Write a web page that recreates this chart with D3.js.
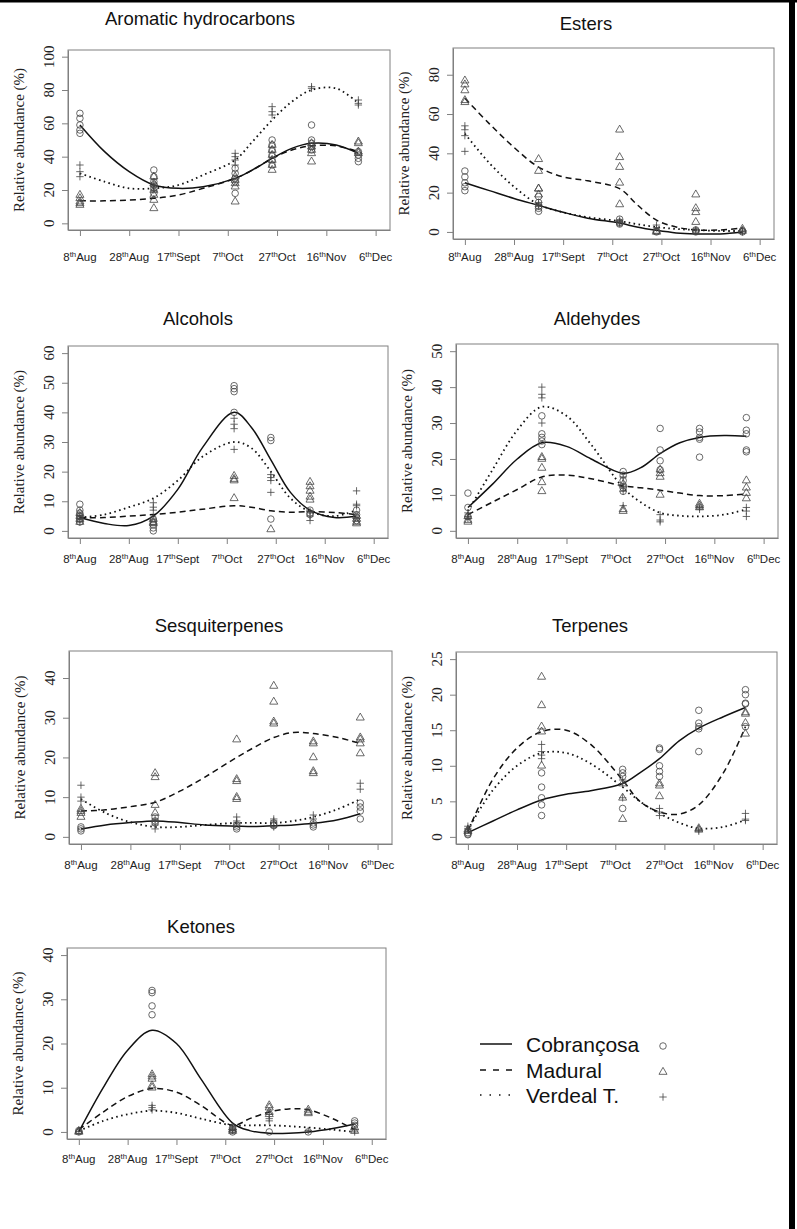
<!DOCTYPE html>
<html>
<head>
<meta charset="utf-8">
<script src="https://cdn.jsdelivr.net/npm/d3@7"></script>
<style>
  body { margin: 0; background: #fff; }
  svg { display: block; }
</style>
</head>
<body>
<svg id="chart"></svg>
<script>
// sampling dates, as days after 8th Aug
const sampleDays = [0, 30, 63, 78, 94, 113];
const fitDays = [0, 10, 20, 30, 40, 50, 63, 70, 78, 86, 94, 104, 113];
const tickDays = [0, 20, 40, 60, 80, 100, 120];
const tickNums = ['8', '28', '17', '7', '27', '16', '6'];
const tickMonths = ['Aug', 'Aug', 'Sept', 'Oct', 'Oct', 'Nov', 'Dec'];
const cultivars = ['Cobrançosa', 'Madural', 'Verdeal T.'];
const titles = ['Aromatic hydrocarbons', 'Esters', 'Alcohols', 'Aldehydes', 'Sesquiterpenes', 'Terpenes', 'Ketones'];
const yLims = [100, 90, 60, 50, 45, 25, 40];
const yTickMax = [100, 80, 60, 50, 40, 25, 40];
const yTickStep = [20, 20, 10, 10, 10, 5, 10];

// Aromatic hydrocarbons
const aromaticCob = [[66, 63, 59, 56, 54], [32, 28, 25, 23, 21, 18], [33, 30, 27, 25, 18], [50, 47, 44, 41, 38, 35], [59, 50, 48, 46, 44], [43, 41, 39, 37]];
const aromaticMad = [[17, 15, 13, 12, 11], [28, 24, 20, 17, 14, 9], [28, 26, 24, 22, 13], [47, 44, 41, 38, 35, 32], [48, 46, 44, 42, 37], [49, 48, 43, 42]];
const aromaticVer = [[35, 31, 28], [24, 22, 20], [42, 40, 38, 35], [70, 67, 65], [82, 81], [74, 72, 71]];
const aromaticFitCob = [59, 43, 31, 23, 21, 22, 27, 32, 39, 45, 48, 47, 42];
const aromaticFitMad = [13.5, 13.5, 14, 15, 17, 21, 27, 32, 39, 44, 46.5, 46.5, 43];
const aromaticFitVer = [30, 25, 21, 21, 23, 29, 38, 49, 62, 73, 80, 81, 72];

// Esters
const esterCob = [[31, 28, 25, 23, 21], [18, 15, 13, 12, 10.5], [6.5, 5, 4.5, 4], [0.5, 0], [1, 0.5, 0], [0.5, 0]];
const esterMad = [[77, 75, 72, 67, 66], [37, 31, 22, 22, 19], [52, 38, 33, 25, 14], [0.5, 0], [19, 12, 10, 5], [1.5, 0.5]];
const esterVer = [[54, 52, 49, 41], [15, 14, 13], [6, 5, 4.5], [3.5, 2], [1, 0.5], [0.5, 0]];
const esterFitCob = [25, 21, 17, 13.5, 10, 7, 4.5, 2.5, 0.8, -0.5, -1, -1, 0];
const esterFitMad = [68, 55, 43, 33, 28, 26, 22, 14, 6, 2.5, 1, 1, 2];
const esterFitVer = [50, 35, 23, 14, 10, 7.5, 5.5, 4, 2.5, 1.5, 1, 0.5, 0.5];

// Alcohols
const alcCob = [[9, 7, 6, 5, 4, 3], [4, 3, 2, 1, 0], [49, 48, 47, 40], [31.5, 30.5, 4], [7, 6, 5.5], [7, 5.5, 4.5, 3.5]];
const alcMad = [[6, 5, 4, 3], [4, 3, 2.5], [18.5, 17.5, 17, 11], [0.5], [16.5, 15, 13.5, 11.5, 10.5], [5, 4, 3, 2.5]];
const alcVer = [[5, 4, 3], [9.5, 8, 7], [38, 36, 34.5, 27.5], [19, 18, 17, 13], [6.5, 5, 3.5], [13.5, 9, 8.5]];
const alcFitCob = [4.5, 2.5, 1.8, 5, 14, 28, 40, 35, 24, 13, 7, 4.5, 5];
const alcFitMad = [4.5, 4.5, 5, 5.5, 6.3, 7.3, 8.5, 8, 6.8, 6.3, 6.5, 6.2, 5.5];
const alcFitVer = [4.5, 5.5, 8, 11, 17, 25, 30, 28, 20, 11, 6.5, 5, 7];

// Aldehydes
const aldCob = [[10.5, 6.5, 4], [32, 27, 26, 25, 24], [16.5, 15.5, 14, 12, 11], [28.5, 22.5, 19.5, 17], [28.5, 27.5, 26, 25.5, 20.5], [31.5, 28, 27, 22.5, 22]];
const aldMad = [[4, 3, 2.5], [20.5, 20, 17.5, 13.5, 11], [13, 6, 5.5], [17, 16, 15, 10], [7.5, 7, 6.5], [14, 12, 10.5, 9]];
const aldVer = [[5, 4, 3.5], [40, 38, 37, 30], [15, 13, 12, 11, 7], [4.5, 3, 2.5], [6.5, 6], [6.5, 5.5, 4]];
const aldFitCob = [6.5, 13, 20, 24.5, 23.5, 20, 16, 17.5, 21.5, 24.5, 26, 26.5, 26.3];
const aldFitMad = [4.5, 8, 11.5, 15, 15.5, 14.5, 12.5, 12, 11.3, 10.5, 9.8, 9.8, 10.3];
const aldFitVer = [5.5, 17, 28, 34.5, 32, 24, 12, 8, 5, 4.2, 4, 4.5, 6];

// Sesquiterpenes
const sesCob = [[2.5, 2, 1.5], [5, 4, 3.5], [3, 2.5, 2], [3.5, 3, 2.8], [3.5, 3, 2.5], [8.5, 7.5, 6.5, 4.5]];
const sesMad = [[7, 6.5, 6, 5], [16, 15, 8, 6], [24.5, 14.5, 14, 10, 9.5], [38, 34, 29, 28.5], [24, 23.5, 20, 16.5, 16], [30, 25, 24.5, 23.5, 21]];
const sesVer = [[13, 10, 9], [4.5, 3, 2], [5, 4, 3.5], [4.5, 4, 2.5], [5.5, 4.5], [13.5, 12]];
const sesFitCob = [2, 3, 3.6, 4, 3.6, 3, 2.7, 2.6, 2.8, 3, 3.4, 4.3, 5.8];
const sesFitMad = [6.5, 6.8, 7.6, 8.7, 11.5, 15, 20, 22.5, 25, 26.3, 26, 25, 23.5];
const sesFitVer = [9.5, 6, 3.7, 2.5, 2.5, 3, 3.5, 3.5, 3.5, 4, 5, 7, 9.5];

// Terpenes
const terCob = [[0.6, 0.4, 0.3], [9, 7, 5.5, 4.5, 3], [9.5, 9, 8.5, 4], [12.5, 12.3, 10, 9.2, 8.5], [17.8, 16, 15.5, 15.2, 12], [20.7, 20, 18.8, 18.7, 15.5]];
const terMad = [[1, 0.8], [22.5, 18.5, 15.5, 14.8, 10], [7.5, 5.5, 2.5], [7.5, 7.2, 5.7], [1.2, 1], [17.5, 17.3, 16, 14.5]];
const terVer = [[1.5, 1.2, 1], [13, 12, 11.5, 11], [8, 7.5, 5.5], [4, 3.5, 3], [1, 0.8], [3.3, 2.5, 2.3]];
const terFitCob = [0.6, 2.2, 3.8, 5.2, 6, 6.5, 7.5, 9, 11, 13.5, 15.3, 16.9, 18.2];
const terFitMad = [0.8, 8, 12.5, 14.8, 15, 13, 8, 5, 3.5, 3.2, 4.5, 9, 15.5];
const terFitVer = [1, 6.5, 10, 11.8, 11.8, 10.3, 7, 5, 3.3, 2, 1.2, 1.4, 2.4];

// Ketones
const ketCob = [[0.3, 0], [32, 31.5, 28.5, 26.5], [1, 0.5, 0], [0], [0], [2.5, 2, 1.5]];
const ketMad = [[0.2, 0], [13, 12.5, 12, 10.5, 10], [1, 0.5, 0.2], [6, 5.5, 4.5, 4], [5, 4.5, 4.2], [1, 0.2]];
const ketVer = [[0.1], [6, 5.5, 5], [0.5, 0.3], [4, 3, 2.5], [0.3], [0.5, 0]];
const ketFitCob = [0, 10, 18.5, 23, 20, 12, 2, 0.3, -0.3, -0.3, 0, 0.8, 1.8];
const ketFitMad = [0.5, 4.5, 8, 9.8, 9, 6, 1.5, 3, 4.5, 5.2, 5, 3, 0.5];
const ketFitVer = [0.2, 2.5, 4, 4.8, 4.3, 3, 1.5, 1.5, 1.5, 1.3, 1, 0.5, 0];

const panelPoints = [
  [aromaticCob, aromaticMad, aromaticVer],
  [esterCob, esterMad, esterVer],
  [alcCob, alcMad, alcVer],
  [aldCob, aldMad, aldVer],
  [sesCob, sesMad, sesVer],
  [terCob, terMad, terVer],
  [ketCob, ketMad, ketVer]
];
const panelFits = [
  [aromaticFitCob, aromaticFitMad, aromaticFitVer],
  [esterFitCob, esterFitMad, esterFitVer],
  [alcFitCob, alcFitMad, alcFitVer],
  [aldFitCob, aldFitMad, aldFitVer],
  [sesFitCob, sesFitMad, sesFitVer],
  [terFitCob, terFitMad, terFitVer],
  [ketFitCob, ketFitMad, ketFitVer]
];

// plot boxes, title and x-label positions
const boxes = [
  { l: 68, r: 390, t: 50, b: 230, tx: 200, ty: 25, ly: 261 },
  { l: 453, r: 774, t: 48, b: 239, tx: 586, ty: 30, ly: 261 },
  { l: 68, r: 388, t: 346, b: 538, tx: 198, ty: 325, ly: 563 },
  { l: 456, r: 778, t: 344, b: 538, tx: 597, ty: 325, ly: 563 },
  { l: 69, r: 392, t: 651, b: 844, tx: 219, ty: 632, ly: 869 },
  { l: 456, r: 777, t: 652, b: 844, tx: 590, ty: 632, ly: 869 },
  { l: 67, r: 386, t: 948, b: 1139, tx: 201, ty: 933, ly: 1163 }
];

const sans = '"Liberation Sans", Arial, sans-serif';
const serif = '"Liberation Serif", "Times New Roman", serif';
const dashes = [null, '6,4', '1.6,3.4'];
const symbols = [
  d3.symbol(d3.symbolCircle, 34)(),
  d3.symbol(d3.symbolTriangle, 28)(),
  'M-3.7,0H3.7M0,-3.7V3.7'
];

const svg = d3.select('#chart').attr('width', 797).attr('height', 1229);
svg.append('rect').attr('width', 797).attr('height', 1229).attr('fill', '#fff');

boxes.forEach((b, i) => {
  const x = d3.scaleLinear().domain([-4.84, 125.84]).range([b.l, b.r]);
  const y = d3.scaleLinear().domain([-0.04 * yLims[i], 1.04 * yLims[i]]).range([b.b, b.t]);
  const g = svg.append('g');

  g.append('text')
    .attr('x', b.tx).attr('y', b.ty)
    .attr('text-anchor', 'middle')
    .attr('font-family', sans).attr('font-size', 18.5).attr('fill', '#111')
    .text(titles[i]);

  // x axis
  const xAxis = g.append('g')
    .attr('transform', 'translate(0,' + b.b + ')')
    .call(d3.axisBottom(x).tickValues(tickDays).tickSize(6).tickSizeOuter(0).tickFormat(''));
  xAxis.selectAll('path,line').attr('stroke', '#808080');
  const lab = g.append('g').selectAll('text').data(tickDays).join('text')
    .attr('x', d => x(d)).attr('y', b.ly)
    .attr('text-anchor', 'middle')
    .attr('font-family', sans).attr('font-size', 11.5).attr('fill', '#222');
  lab.append('tspan').text((d, j) => tickNums[j]);
  lab.append('tspan').attr('dy', -4.5).attr('font-size', 7.8).text('th');
  lab.append('tspan').attr('dy', 4.5).text((d, j) => tickMonths[j]);

  // y axis
  const yTicks = d3.range(0, yTickMax[i] + 0.001, yTickStep[i]);
  const yAxis = g.append('g')
    .attr('transform', 'translate(' + b.l + ',0)')
    .call(d3.axisLeft(y).tickValues(yTicks).tickSize(6).tickSizeOuter(0).tickFormat(''));
  yAxis.selectAll('path,line').attr('stroke', '#808080');
  g.append('g').selectAll('text').data(yTicks).join('text')
    .attr('transform', d => 'translate(' + (b.l - 19) + ',' + y(d) + ') rotate(-90)')
    .attr('dy', '0.35em')
    .attr('text-anchor', 'middle')
    .attr('font-family', serif).attr('font-size', 15).attr('fill', '#222')
    .text(d => d);
  g.append('text')
    .attr('transform', 'translate(' + (b.l - 49) + ',' + ((b.t + b.b) / 2) + ') rotate(-90)')
    .attr('dy', '0.35em')
    .attr('text-anchor', 'middle')
    .attr('font-family', serif).attr('font-size', 15).attr('fill', '#222')
    .text('Relative abundance (%)');

  g.append('rect')
    .attr('x', b.l).attr('y', b.t)
    .attr('width', b.r - b.l).attr('height', b.b - b.t)
    .attr('fill', 'none').attr('stroke', '#808080');

  // fitted curves
  const line = d3.line()
    .x((d, j) => x(fitDays[j]))
    .y(d => y(d))
    .curve(d3.curveCatmullRom.alpha(0.5));
  panelFits[i].forEach((fit, c) => {
    g.append('path')
      .attr('d', line(fit))
      .attr('fill', 'none')
      .attr('stroke', '#111')
      .attr('stroke-width', c === 2 ? 1.8 : 1.5)
      .attr('stroke-dasharray', dashes[c]);
  });

  // replicate points
  panelPoints[i].forEach((cols, c) => {
    const pts = cols.flatMap((vals, k) => vals.map(v => [sampleDays[k], v]));
    g.append('g').selectAll('path').data(pts).join('path')
      .attr('transform', d => 'translate(' + x(d[0]) + ',' + y(d[1]) + ')')
      .attr('d', symbols[c])
      .attr('fill', 'none')
      .attr('stroke', '#444')
      .attr('stroke-width', 0.8);
  });
});

// legend
const legend = svg.append('g');
const legY = [1044, 1070, 1095];
const legDash = [null, '6,7', '1.5,8'];
cultivars.forEach((name, c) => {
  legend.append('line')
    .attr('x1', 480).attr('x2', 512)
    .attr('y1', legY[c]).attr('y2', legY[c])
    .attr('stroke', '#111').attr('stroke-width', 1.5)
    .attr('stroke-dasharray', legDash[c]);
  legend.append('text')
    .attr('x', 526).attr('y', legY[c] + 7.5)
    .attr('font-family', sans).attr('font-size', 21).attr('fill', '#111')
    .text(name);
  legend.append('path')
    .attr('transform', 'translate(663,' + (legY[c] + 2) + ')')
    .attr('d', symbols[c])
    .attr('fill', 'none').attr('stroke', '#444').attr('stroke-width', 0.8);
});

// page frame
svg.append('rect').attr('x', 0).attr('y', 0).attr('width', 797).attr('height', 2.5).attr('fill', '#000');
svg.append('rect').attr('x', 789).attr('y', 0).attr('width', 6).attr('height', 1229).attr('fill', '#000');
</script>
</body>
</html>
